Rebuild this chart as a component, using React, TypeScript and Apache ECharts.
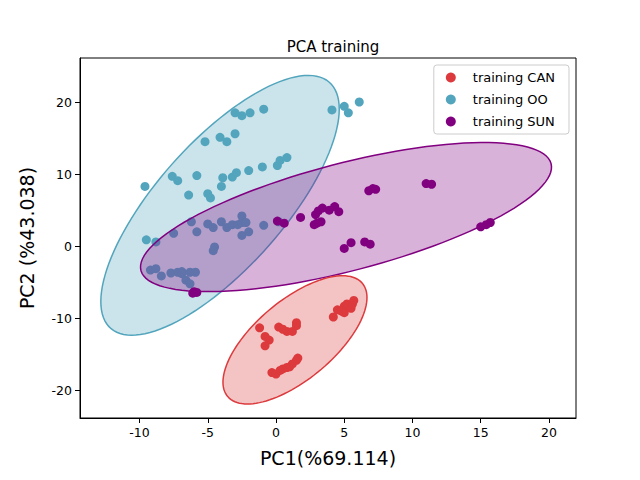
import React, { useEffect, useRef } from "react";
import * as echarts from "echarts";

const xTicks = [-10, -5, 0, 5, 10, 15, 20];
const yTicks = [-20, -10, 0, 10, 20];

const canPoints: number[][] = [
  [-1.2, -11.3], [-0.8, -12.5], [-0.5, -13.0], [-0.8, -13.8], [0.2, -11.2], [0.8, -11.8],
  [1.2, -11.8], [1.5, -11.0], [1.5, -10.6], [0.5, -11.5], [-0.3, -17.5], [0, -17.7],
  [0.3, -17.2], [0.5, -17.0], [1.0, -16.7], [1.2, -16.3], [1.5, -15.8], [1.6, -15.5],
  [0.8, -16.8], [4.2, -9.8], [4.5, -8.8], [5.0, -8.3], [5.2, -8.0], [5.5, -8.6],
  [5.6, -8.0], [5.7, -7.5], [4.8, -9.0], [5.0, -9.2],
];

const ooPoints: number[][] = [
  [-9.6, 8.3], [-7.6, 9.7], [-7.2, 9.1], [-5.8, 9.8], [-6.4, 7.1], [-6.2, 3.4], [-7.5, 1.8],
  [-9.5, 0.9], [-8.8, 0.6], [-5.0, 7.3], [-4.8, 6.7], [-4.0, 8.3], [-3.9, 9.5], [-3.2, 9.6],
  [-2.9, 10.2], [-2.0, 10.5], [-1.0, 11.0], [0.1, 11.2], [0.3, 11.9], [0.8, 12.3],
  [-5.2, 14.5], [-4.1, 15.1], [-3.6, 14.5], [-3.0, 15.6], [-3.0, 18.5], [-2.5, 18.1],
  [-1.9, 18.5], [-0.9, 19.0], [4.1, 18.9], [5.0, 19.4], [5.3, 18.5], [6.1, 20.0],
  [-6.9, -3.5], [-6.3, -3.6], [-5.9, -3.6], [-4.5, -0.1], [-4.6, -0.6],
  [-9.2, -3.3], [-8.8, -3.1], [-8.4, -4.1], [-7.7, -3.7], [-7.2, -3.6], [-6.9, -3.8],
  [-6.6, -4.7], [-6.3, -5.2], [-5.0, 3.1], [-4.6, 2.6], [-4.0, 3.4], [-3.6, 2.6],
  [-3.2, 3.0], [-2.8, 3.0], [-2.5, 3.3], [-2.5, 4.2], [-2.2, 3.3], [-2.5, 1.5],
  [-2.0, 2.0], [-5.8, 2.0], [-0.9, 2.9], [0.2, 3.4],
];

const sunPoints: number[][] = [
  [-6.1, -6.5], [-6.0, -6.3], [-5.8, -6.4], [0.1, 3.5], [0.6, 3.2], [1.8, 4.0], [2.8, 3.0],
  [3.0, 3.2], [2.9, 4.4], [3.1, 4.9], [3.3, 3.4], [3.4, 5.3], [3.9, 5.0], [4.3, 5.5],
  [4.6, 4.8], [5.0, -0.3], [5.5, 0.5], [6.5, 0.6], [6.9, 0.3], [6.8, 7.7], [7.1, 8.0],
  [7.3, 7.9], [11.0, 8.7], [11.4, 8.6], [15.0, 2.7], [15.4, 3.0], [15.7, 3.3],
];

// confidence ellipses: centre, semi-major vector, semi-minor vector (data units)
const canEllipse = [[1.39, -12.97], [4.91, 7.9], [1.93, -4.07]];
const ooEllipse = [[-4.1, 5.68], [7.98, 17.1], [3.55, -5.64]];
const sunEllipse = [[5.13, 4.05], [15.02, 7.43], [1.04, -7.18]];

const colors = { CAN: "#dc3a3d", OO: "#52a5bd", SUN: "#800080" };

const ellipseSeries = (e: number[][], color: string, z: number) => ({
  type: "custom",
  z,
  silent: true,
  data: [0],
  renderItem: (_p: any, api: any) => {
    const [c, u, v] = e;
    const pts: number[][] = [];
    for (let i = 0; i < 120; i++) {
      const t = (i / 120) * Math.PI * 2;
      pts.push(api.coord([
        c[0] + u[0] * Math.cos(t) + v[0] * Math.sin(t),
        c[1] + u[1] * Math.cos(t) + v[1] * Math.sin(t),
      ]));
    }
    return {
      type: "polygon",
      shape: { points: pts },
      style: { fill: color, opacity: 1, stroke: color, lineWidth: 1.5, fillOpacity: 0.3 },
    };
  },
});

const App: React.FC = () => {
  const chartRef = useRef<HTMLDivElement>(null);

  useEffect(() => {
    if (!chartRef.current) return undefined;
    const chart = echarts.init(chartRef.current, undefined, { renderer: "svg" });
    const scatter = (name: string, data: number[][], color: string, z: number) => ({
      type: "scatter",
      name,
      data,
      z,
      symbolSize: 9,
      itemStyle: { color, opacity: 1 },
    });
    chart.setOption({
      animation: false,
      textStyle: { fontFamily: "DejaVu Sans" },
      title: {
        text: "PCA training",
        left: 320,
        top: 26,
        textAlign: "center",
        textStyle: { fontSize: 15, fontWeight: "normal", color: "#000" },
      },
      legend: {
        right: 63,
        top: 57,
        orient: "vertical",
        data: ["training CAN", "training OO", "training SUN"],
        icon: "circle",
        itemWidth: 10,
        itemHeight: 10,
        itemGap: 9,
        borderColor: "#ccc",
        borderWidth: 1,
        borderRadius: 3,
        padding: [6, 14, 6, 12],
        textStyle: { fontSize: 13, color: "#000", padding: [0, 0, 0, 12] },
      },
      grid: {
        left: 72, right: 56, top: 50, bottom: 45,
        show: true, borderColor: "#000", borderWidth: 1,
      },
      xAxis: {
        type: "value",
        min: -14.36,
        max: 21.98,
        name: "PC1(%69.114)",
        nameLocation: "middle",
        nameGap: 30,
        nameTextStyle: { fontSize: 19, color: "#000" },
        axisLine: { show: true, onZero: false, lineStyle: { color: "#000" } },
        axisTick: { show: true, customValues: xTicks, lineStyle: { color: "#000" } },
        axisLabel: { customValues: xTicks, color: "#000", fontSize: 12.5 },
        splitLine: { show: false },
      },
      yAxis: {
        type: "value",
        min: -23.8,
        max: 26.1,
        name: "PC2 (%43.038)",
        nameLocation: "middle",
        nameGap: 44,
        nameTextStyle: { fontSize: 19, color: "#000" },
        axisLine: { show: true, onZero: false, lineStyle: { color: "#000" } },
        axisTick: { show: true, customValues: yTicks, lineStyle: { color: "#000" } },
        axisLabel: { customValues: yTicks, color: "#000", fontSize: 12.5 },
        splitLine: { show: false },
      },
      series: [
        ellipseSeries(ooEllipse, colors.OO, 1),
        scatter("training OO", ooPoints, colors.OO, 2),
        ellipseSeries(sunEllipse, colors.SUN, 3),
        scatter("training SUN", sunPoints, colors.SUN, 4),
        ellipseSeries(canEllipse, colors.CAN, 5),
        scatter("training CAN", canPoints, colors.CAN, 6),
      ],
    });
    return () => chart.dispose();
  }, []);

  return <div ref={chartRef} style={{ width: 624, height: 464 }} />;
};

export default App;
